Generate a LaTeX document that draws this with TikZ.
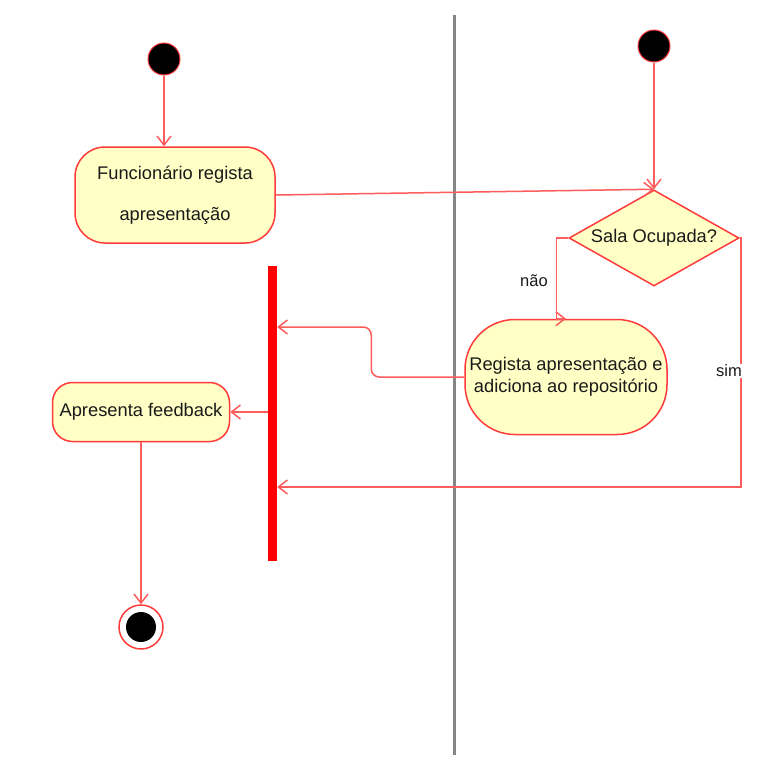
\documentclass[tikz,border=0pt]{standalone}
\usepackage{fontspec}
\setmainfont{Liberation Sans}
\usetikzlibrary{arrows.meta,shapes.geometric}
\definecolor{boxfill}{HTML}{FFFFC6}
\definecolor{boxline}{HTML}{FF3B3B}
\definecolor{flowline}{HTML}{FF5C5C}
\definecolor{lanegray}{HTML}{858585}
\definecolor{txt}{HTML}{1A1A1A}
\tikzset{
  action/.style={draw=boxline, fill=boxfill, line width=1.5pt, align=center,
    font=\fontsize{18.3}{22}\selectfont, text=txt, inner sep=0pt},
  decision/.style={draw=boxline, fill=boxfill, line width=1.5pt, diamond,
    aspect=1.77, minimum width=170pt, minimum height=96pt, inner sep=0pt,
    font=\fontsize{18.3}{22}\selectfont, text=txt},
  startnode/.style={circle, fill=black, draw=boxline, line width=1pt,
    minimum size=32pt, inner sep=0pt},
  flow/.style={draw=flowline, line width=1.5pt,
    -{Straight Barb[length=9pt,width=14pt,line width=1.5pt]}},
  lbl/.style={font=\fontsize{16.5}{18}\selectfont, text=txt, inner sep=1pt},
  forkbar/.style={fill=red, draw=none, minimum width=9pt, minimum height=295pt, inner sep=0pt},
}
\begin{document}
\begin{tikzpicture}[x=1pt,y=-1pt]
\useasboundingbox[fill=white] (0,0) rectangle (783,766);
% swimlane separator
\coordinate (laneTop) at (454,15);
\coordinate (laneBot) at (454,755);
\draw[lanegray, line width=3pt] (laneTop) -- (laneBot);

% nodes
\node[startnode] (i1) at (164,59) {};
\node[startnode] (i2) at (654,46) {};
\node[action, rounded corners=30pt, minimum width=200pt, minimum height=96pt] (a1) at (175,195)
  {Funcionário regista\\[19pt]apresentação};
\node[decision] (d) at (654,238) {Sala Ocupada?};
\node[action, rounded corners=50pt, minimum width=202pt, minimum height=115pt] (a2) at (566,377)
  {Regista apresentação e\\adiciona ao repositório};
\node[forkbar] (bar) at (272.5,413.5) {};
\node[action, rounded corners=20pt, minimum width=177pt, minimum height=59pt] (a3) at (141,412)
  {Apresenta feedback};
\node[circle, draw=boxline, line width=1.5pt, fill=white, minimum size=44pt, inner sep=0pt] (f) at (141,627) {};
\node[circle, fill=black, minimum size=30pt, inner sep=0pt] (fin) at (f.center) {};

% helper coordinates
\coordinate (yJoin) at (0,327);
\coordinate (ySim) at (0,487);

% connectors
\draw[flow] (i1) -- (i1 |- a1.north);
\draw[flow] (i2) -- (d.north);
\draw[flow] (a1.east) -- (d.north);
\draw[flow] (d.west) -- ++(-12,0) |- (a2.north);
\node[lbl] (nao) at (534,281) {não};
\draw[flow, rounded corners=8pt] (a2.west) -- ++(-93,0) |- (bar.east |- yJoin);
\draw[flow] (d.east) -- ++(1,0) |- (bar.east |- ySim);
\node[lbl, fill=white] (sim) at (729,371) {sim};
\draw[flow] (bar.west |- a3.east) -- (a3.east);
\draw[flow] (a3.south) -- (f.north);
\end{tikzpicture}
\end{document}
